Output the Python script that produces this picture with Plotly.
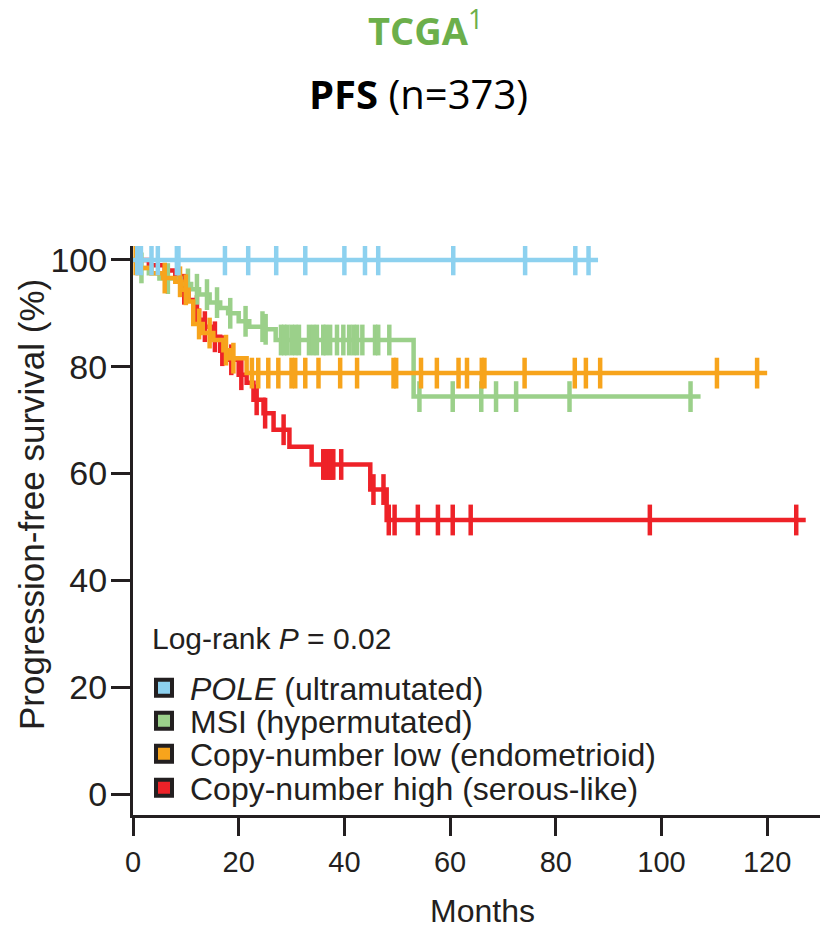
import numpy as np
import plotly.graph_objects as go

# ---------------- data ----------------
series_names = ["<i>POLE</i> (ultramutated)", "MSI (hypermutated)",
                "Copy-number low (endometrioid)", "Copy-number high (serous-like)"]
series_colors = ["#8dd1ef", "#9bd08a", "#f7a41c", "#ee2228"]

pole_times = [0]
pole_surv = [100]
pole_end = 88.0
pole_censor = [0.8, 1.5, 3.5, 4.7, 8.3, 8.6, 17.4, 21.8, 27.1, 32.6, 40.0, 43.9,
               46.4, 60.6, 74.2, 83.7, 86.2]

msi_times = [0, 1.5, 3, 5, 9, 11, 12.5, 14.5, 16.5, 18, 20, 22, 25, 27, 53.1]
msi_surv = [100, 98.5, 97.5, 96.5, 95.5, 94.5, 93.5, 92, 91, 90, 88.5, 87.5, 87, 85, 74.4]
msi_end = 107.4
msi_censor = [1.6, 6.6, 10.4, 12.1, 14.0, 15.9, 18.4, 21.3, 24.5, 25.1, 28.0, 28.6,
              29.2, 30.0, 30.7, 31.4, 33.3, 34.1, 34.8, 36.0, 36.5, 37.3, 38.6, 39.8,
              40.9, 41.7, 42.4, 43.4, 45.8, 46.4, 48.5, 54.2, 60.5, 65.9, 68.7, 72.5,
              82.6, 105.5]

cnl_times = [0, 1.3, 3.5, 5.7, 8, 9.2, 10.5, 11.4, 13.2, 15.2, 17.1, 18.4, 21.5]
cnl_surv = [100, 98.5, 97.5, 96.6, 95.9, 94.4, 92.2, 88.0, 86.3, 85.0, 83.1, 81.6, 78.8]
cnl_end = 120.0
cnl_censor = [0.5, 1.0, 6.0, 8.9, 10.0, 12.5, 14.5, 17.6, 19.0, 22.5, 23.7, 25.6, 27.5,
              30.0, 30.7, 32.6, 35.1, 39.2, 42.4, 49.3, 49.8, 54.5, 57.5, 61.6, 63.2,
              66.0, 66.5, 74.1, 83.6, 85.7, 88.4, 110.5, 118.1]

cnh_times = [0, 3, 6, 8, 9.5, 10.5, 11.5, 12.5, 13.3, 14.8, 16.5, 18, 20, 21.5, 22.8,
             24.7, 26.6, 29.6, 33.8, 44.9, 48.0]
cnh_surv = [100, 99, 98, 96.6, 94.5, 92.5, 90.5, 88.8, 87.5, 85.6, 83, 81.3, 78.5, 77,
            73.8, 71.3, 68.2, 65.0, 61.7, 57.0, 51.3]
cnh_end = 127.3
cnh_censor = [9.7, 12.1, 13.6, 15.5, 16.9, 18.6, 20.5, 23.4, 25.0, 28.5, 36.0, 36.4,
              36.8, 37.2, 37.6, 37.9, 39.4, 45.5, 47.4, 48.4, 49.5, 53.9, 57.7, 60.5,
              63.9, 97.8, 125.5]

x_ticks = [0, 20, 40, 60, 80, 100, 120]
y_ticks = [0, 20, 40, 60, 80, 100]

# ---------------- layout geometry ----------------
W, H = 820, 929
L, R, T, B = 133, 0, 246, 114
plot_w = W - L - R
plot_h = H - T - B


def px2x(px):
    return (px - L) / plot_w


def py2y(py):
    return (H - B - py) / plot_h


AX = "#231f20"
FONT = "Liberation Sans, Arial, sans-serif"

fig = go.Figure()

groups = [
    (cnh_times, cnh_surv, cnh_end, cnh_censor, 3),
    (msi_times, msi_surv, msi_end, msi_censor, 1),
    (cnl_times, cnl_surv, cnl_end, cnl_censor, 2),
    (pole_times, pole_surv, pole_end, pole_censor, 0),
]

for times, surv, end, cens, idx in groups:
    color = series_colors[idx]
    xs = list(times) + [end]
    ys = list(surv) + [surv[-1]]
    fig.add_trace(go.Scatter(x=xs, y=ys, mode="lines", line_shape="hv",
                             line=dict(color=color, width=4.5), showlegend=False,
                             hoverinfo="skip"))
    t_arr = np.array(times)
    s_arr = np.array(surv)
    c_arr = np.array(cens)
    idxs = np.searchsorted(t_arr, c_arr, side="right") - 1
    cy = s_arr[idxs]
    fig.add_trace(go.Scatter(x=c_arr, y=cy, mode="markers",
                             marker=dict(symbol="line-ns", size=22,
                                         line=dict(color=color, width=4.5)),
                             showlegend=False, hoverinfo="skip"))

# legend entries (one legend each for precise spacing)
legend_rows_py = [688, 721, 754, 788]
legend_keys = ["legend", "legend2", "legend3", "legend4"]
for i, name in enumerate(series_names):
    fig.add_trace(go.Scatter(x=[None], y=[None], mode="markers", name=name,
                             marker=dict(symbol="square", size=16, color=series_colors[i],
                                         line=dict(color=AX, width=4)),
                             legend=legend_keys[i], showlegend=True))

legend_common = dict(x=px2x(138), xanchor="left", yanchor="middle",
                     bgcolor="rgba(0,0,0,0)", borderwidth=0,
                     font=dict(family=FONT, size=32, color=AX),
                     itemsizing="trace", itemwidth=42, tracegroupgap=0)
layout_legends = {}
for i, key in enumerate(legend_keys):
    layout_legends[key] = dict(y=py2y(legend_rows_py[i]), **legend_common)

fig.update_layout(
    width=W, height=H,
    margin=dict(l=L, r=R, t=T, b=B),
    paper_bgcolor="white", plot_bgcolor="white",
    font=dict(family=FONT, color=AX),
    xaxis=dict(range=[0, 130], tickvals=x_ticks, ticktext=[str(v) for v in x_ticks],
               showgrid=False, zeroline=False, showline=True, linecolor=AX, linewidth=3,
               ticks="outside", ticklen=18, tickwidth=3, tickcolor=AX,
               tickfont=dict(family=FONT, size=29, color=AX), ticklabelstandoff=1),
    yaxis=dict(range=[-3.93, 102.6], tickvals=y_ticks, ticktext=[str(v) for v in y_ticks],
               showgrid=False, zeroline=False, showline=True, linecolor=AX, linewidth=3,
               ticks="outside", ticklen=19, tickwidth=3, tickcolor=AX,
               tickfont=dict(family=FONT, size=34, color=AX), ticklabelstandoff=-3),
    **layout_legends,
)

annotations = [
    dict(text="<b>TCGA</b><sup>1</sup>", x=px2x(425), y=py2y(28), xref="paper", yref="paper",
         showarrow=False, font=dict(family="Open Sans, sans-serif", size=38, color="#6caf4b"),
         xanchor="center", yanchor="middle"),
    dict(text="<b>PFS</b> (n=373)", x=px2x(418), y=py2y(93), xref="paper", yref="paper",
         showarrow=False, font=dict(family="Open Sans, sans-serif", size=40, color="#000000"),
         xanchor="center", yanchor="middle"),
    dict(text="Log-rank <i>P</i> = 0.02", x=px2x(150), y=py2y(638), xref="paper", yref="paper",
         showarrow=False, font=dict(family=FONT, size=30, color=AX),
         xanchor="left", yanchor="middle"),
    dict(text="Progression-free survival (%)", x=px2x(31), y=py2y(505), xref="paper",
         yref="paper", showarrow=False, textangle=-90,
         font=dict(family=FONT, size=35, color=AX), xanchor="center", yanchor="middle"),
    dict(text="Months", x=px2x(482), y=py2y(911), xref="paper", yref="paper",
         showarrow=False, font=dict(family=FONT, size=32, color=AX),
         xanchor="center", yanchor="middle"),
]
fig.update_layout(annotations=annotations)

fig.write_html("out.html", config={"displayModeBar": False},
               post_script="document.body.style.margin='0';document.body.style.overflow='hidden';")
